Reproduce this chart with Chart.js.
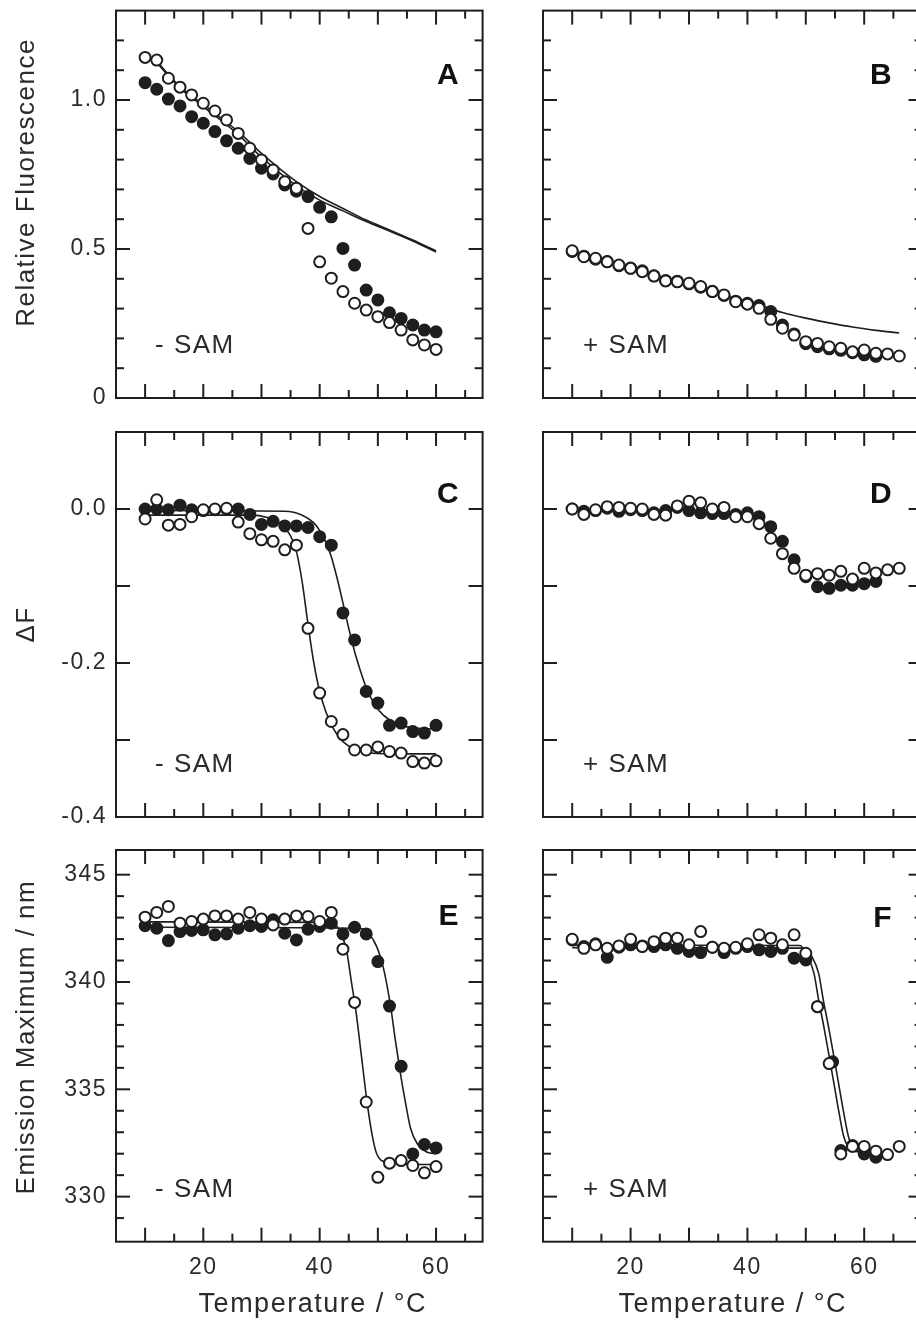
<!DOCTYPE html>
<html><head><meta charset="utf-8">
<script src="https://cdn.jsdelivr.net/npm/chart.js@4.4.1/dist/chart.umd.min.js"></script>
<style>
html,body{margin:0;padding:0;background:#fff;overflow:hidden;}
#wrap{position:relative;width:916px;height:1324px;overflow:hidden;background:#fff;}
.p{position:absolute;}
</style></head><body>
<div id="wrap">
<canvas class="p" id="cA" width="500" height="420" style="left:0;top:0"></canvas>
<canvas class="p" id="cB" width="440" height="420" style="left:500px;top:0"></canvas>
<canvas class="p" id="cC" width="500" height="420" style="left:0;top:420px"></canvas>
<canvas class="p" id="cD" width="440" height="420" style="left:500px;top:420px"></canvas>
<canvas class="p" id="cE" width="500" height="484" style="left:0;top:840px"></canvas>
<canvas class="p" id="cF" width="440" height="484" style="left:500px;top:840px"></canvas>
</div>
<script>
// ---------- DATA ----------
// Panel A (- SAM), relative fluorescence
const tA = [10,12,14,16,18,20,22,24,26,28,30,32,34,36,38,40,42,44,46,48,50,52,54,56,58,60];
const aOpen = [1.143,1.134,1.073,1.043,1.017,0.989,0.963,0.933,0.888,0.838,0.799,0.765,0.726,0.704,0.569,0.457,0.402,0.357,0.318,0.295,0.273,0.253,0.228,0.195,0.178,0.163];
const aFilled = [1.058,1.036,1.003,0.980,0.944,0.922,0.894,0.863,0.838,0.804,0.771,0.752,0.715,0.694,0.676,0.640,0.608,0.502,0.446,0.362,0.329,0.286,0.267,0.245,0.228,0.222];
const tAFit = [12,16,20,26,30,36,40,44,48,52,56,60];
const aFit1 = [1.130,1.045,0.985,0.894,0.821,0.726,0.676,0.636,0.597,0.564,0.530,0.494];
const aFit2 = [1.125,1.040,0.978,0.884,0.808,0.712,0.664,0.628,0.592,0.560,0.527,0.490];

// Panel B (+ SAM)
const tB = [10,12,14,16,18,20,22,24,26,28,30,32,34,36,38,40,42,44,46,48,50,52,54,56,58,60,62,64,66];
const bOpen = [0.494,0.474,0.469,0.457,0.446,0.435,0.424,0.409,0.393,0.390,0.385,0.374,0.357,0.346,0.323,0.315,0.301,0.264,0.234,0.211,0.189,0.183,0.172,0.167,0.155,0.161,0.150,0.148,0.141];
const tBf = [10,12,14,16,18,20,22,24,26,28,30,32,34,36,38,40,42,44,46,48,50,52,54,56,58,60,62];
const bFilled = [0.492,0.476,0.466,0.458,0.444,0.436,0.427,0.410,0.394,0.392,0.383,0.372,0.358,0.344,0.325,0.318,0.310,0.290,0.245,0.215,0.182,0.172,0.165,0.160,0.152,0.145,0.140];
const tBFit = [10,20,30,36,42,46,50,54,58,62,66];
const bFit = [0.490,0.435,0.380,0.345,0.312,0.287,0.268,0.252,0.238,0.227,0.218];

// Panel C (- SAM), delta F
const tC = [10,12,14,16,18,20,22,24,26,28,30,32,34,36,38,40,42,44,46,48,50,52,54,56,58,60];
const cOpen = [-0.013,0.012,-0.021,-0.020,-0.010,-0.001,0.000,0.001,-0.017,-0.032,-0.040,-0.042,-0.053,-0.047,-0.155,-0.239,-0.276,-0.293,-0.313,-0.313,-0.309,-0.315,-0.317,-0.328,-0.330,-0.327];
const cFilled = [0.000,0.000,-0.001,0.005,-0.001,-0.002,-0.001,0.000,0.000,-0.007,-0.020,-0.016,-0.022,-0.022,-0.024,-0.036,-0.047,-0.135,-0.170,-0.237,-0.252,-0.281,-0.278,-0.289,-0.291,-0.281];
const tCFitO = [10,28,31,33,35,36,37,38,39,40,41,42,43,44,46,48,52,60];
const cFitO = [-0.008,-0.008,-0.011,-0.018,-0.035,-0.055,-0.095,-0.150,-0.200,-0.237,-0.262,-0.280,-0.293,-0.302,-0.312,-0.316,-0.318,-0.318];
const tCFitF = [10,34,37,39,40,41,42,43,44,45,46,47,48,49,50,52,54,56,60];
const cFitF = [-0.002,-0.003,-0.008,-0.018,-0.028,-0.042,-0.062,-0.090,-0.122,-0.155,-0.185,-0.210,-0.232,-0.248,-0.260,-0.274,-0.281,-0.284,-0.286];

// Panel D (+ SAM)
const tD = [10,12,14,16,18,20,22,24,26,28,30,32,34,36,38,40,42,44,46,48,50,52,54,56,58,60,62,64,66];
const dOpen = [0.000,-0.007,-0.001,0.003,0.002,0.001,0.000,-0.007,-0.008,0.004,0.010,0.008,0.000,0.002,-0.010,-0.010,-0.019,-0.038,-0.058,-0.077,-0.086,-0.084,-0.086,-0.081,-0.091,-0.077,-0.083,-0.079,-0.077];
const tDf = [10,12,14,16,18,20,22,24,26,28,30,32,34,36,38,40,42,44,46,48,50,52,54,56,58,60,62];
const dFilled = [0.000,-0.003,-0.002,0.001,-0.003,-0.001,-0.002,-0.005,-0.002,0.002,-0.002,-0.005,-0.006,-0.006,-0.007,-0.005,-0.010,-0.023,-0.042,-0.066,-0.088,-0.101,-0.103,-0.099,-0.099,-0.097,-0.094];

// Panel E (- SAM), emission maximum
const tE = [10,12,14,16,18,20,22,24,26,28,30,32,34,36,38,40,42,44,46,48,50,52,54,56,58,60];
const eOpen = [343.02,343.24,343.52,342.74,342.82,342.93,343.08,343.08,342.93,343.24,342.93,342.66,342.93,343.08,343.05,342.82,343.24,341.53,339.05,334.41,330.90,331.56,331.68,331.45,331.11,331.40];
const eFilled = [342.62,342.51,341.93,342.35,342.40,342.43,342.20,342.24,342.51,342.62,342.59,342.90,342.27,341.96,342.46,342.59,342.74,342.24,342.55,342.24,340.95,338.88,336.07,331.99,332.43,332.27];
const tEFitO = [10,42,43.4,44.6,45.4,46.3,47.2,48.1,49,49.8,51.6,56,60];
const eFitO = [342.8,342.78,342.4,341.5,340.1,338.5,336.5,334.5,332.9,332.0,331.6,331.5,331.5];
const tEFitF = [10,47,48.1,49.8,51,52.2,53,53.9,54.8,55.6,56.8,58.5,60];
const eFitF = [342.55,342.5,342.35,341.65,340.6,338.85,337.3,335.7,334.3,333.2,332.45,332.07,332.0];

// Panel F (+ SAM)
const tF = [10,12,14,16,18,20,22,24,26,28,30,32,34,36,38,40,42,44,46,48,50,52,54,56,58,60,62,64,66];
const fOpen = [341.99,341.57,341.73,341.57,341.68,341.99,341.65,341.88,342.04,342.04,341.73,342.35,341.62,341.57,341.62,341.78,342.20,342.04,341.73,342.20,341.34,338.85,336.20,331.99,332.34,332.34,332.12,331.96,332.34];
const tFf = [10,12,14,16,18,20,22,24,26,28,30,32,34,36,38,40,42,44,46,48,50,52,54.6,56,58,60,62];
const fFilled = [341.96,341.65,341.78,341.15,341.62,341.73,341.68,341.65,341.73,341.57,341.42,341.37,341.62,341.37,341.57,341.65,341.50,341.42,341.57,341.11,341.03,338.85,336.28,332.15,332.38,331.99,331.84];
const tFFit1 = [10,49,50.2,51.4,52.2,53.1,53.9,54.8,55.7,56.5,57.7,60,62];
const fFit1 = [341.72,341.7,341.26,340.4,339.16,337.9,336.7,335.3,333.9,332.8,332.2,332.15,332.2];
const tFFit2 = [10,49.8,51,52.2,53,53.9,54.7,55.6,56.5,57.3,58.5,62];
const fFit2 = [341.6,341.58,341.2,340.4,339.16,337.9,336.7,335.3,333.9,332.8,332.1,332.05];

// Axis ticks / labels
const xLabelVals = [20,40,60];
const xLabelText = ['20','40','60'];
const xMajor = [10,20,30,40,50,60];
const xMinor = [15,25,35,45,55,65];
const yLabelValsAB = [0,0.5,1.0];
const yLabelTextAB = ['0','0.5','1.0'];
const yMajorAB = [0.5,1.0];
const yMinorAB = [0.1,0.2,0.3,0.4,0.6,0.7,0.8,0.9,1.1,1.2];
const yLabelValsCD = [-0.4,-0.2,0.0];
const yLabelTextCD = ['-0.4','-0.2','0.0'];
const yMajorCD = [-0.3,-0.2,-0.1,0.0];
const yMinorCD = [];
const yLabelValsEF = [330,335,340,345];
const yLabelTextEF = ['330','335','340','345'];
const yMajorEF = [330,335,340,345];
const yMinorEF = [329,331,332,333,334,336,337,338,339,341,342,343,344];

// ---------- RENDERING ----------
const INK = '#1e1e1e';
const TXT = '#2b2b2b';
const FONT = "'Liberation Sans', Arial, Helvetica, sans-serif";
Chart.defaults.font.family = FONT;
Chart.defaults.color = TXT;

function pts(xs, ys){ return xs.map((x,i)=>({x:x, y:ys[i]})); }
function openSet(xs, ys){ return {data:pts(xs,ys), showLine:false, pointRadius:5.5, pointBorderWidth:2, pointBackgroundColor:'#fff', pointBorderColor:INK, order:0}; }
function filledSet(xs, ys){ return {data:pts(xs,ys), showLine:false, pointRadius:5.5, pointBorderWidth:2, pointBackgroundColor:INK, pointBorderColor:INK, order:1}; }
function fitSet(xs, ys){ return {data:pts(xs,ys), showLine:true, borderColor:INK, borderWidth:1.6, pointRadius:0, cubicInterpolationMode:'monotone', fill:false, order:2}; }

const SP = '1.5px';
const spacing = {
  id:'spacing',
  beforeLayout(chart){ chart.ctx.letterSpacing = SP; },
  beforeDraw(chart){ chart.ctx.letterSpacing = SP; }
};

const frame = {
  id:'frame',
  afterDatasetsDraw(chart, args, o){
    const {ctx, chartArea:a, scales:{x, y}} = chart;
    ctx.save();
    ctx.strokeStyle = INK; ctx.lineWidth = 2;
    const seg = (x1,y1,x2,y2)=>{ ctx.beginPath(); ctx.moveTo(x1,y1); ctx.lineTo(x2,y2); ctx.stroke(); };
    const tickX = (v,len)=>{ const p = x.getPixelForValue(v); seg(p,a.bottom,p,a.bottom-len); seg(p,a.top,p,a.top+len); };
    const tickY = (v,len)=>{ const p = y.getPixelForValue(v); seg(a.left,p,a.left+len,p); seg(a.right,p,a.right-len,p); };
    o.xMajor.forEach(v=>tickX(v,14)); o.xMinor.forEach(v=>tickX(v,8));
    o.yMajor.forEach(v=>tickY(v,14)); o.yMinor.forEach(v=>tickY(v,8));
    ctx.strokeRect(a.left, a.top, a.right-a.left, a.bottom-a.top);
    ctx.restore();
  }
};

const notes = {
  id:'notes',
  afterDraw(chart, args, o){
    const {ctx, chartArea:a} = chart;
    ctx.save();
    ctx.letterSpacing = '0px';
    ctx.fillStyle = '#111';
    ctx.font = 'bold 30px ' + FONT;
    ctx.textAlign = 'right'; ctx.textBaseline = 'alphabetic';
    ctx.fillText(o.letter, a.right - o.letterDx, a.top + o.letterDy);
    ctx.letterSpacing = '1.5px';
    ctx.fillStyle = TXT;
    ctx.font = '26px ' + FONT;
    ctx.textAlign = 'left';
    ctx.fillText(o.sam, a.left + o.samDx, a.bottom - 45);
    ctx.restore();
  }
};

function make(id, p){
  const left = p.col === 0;
  return new Chart(document.getElementById(id), {
    type:'scatter',
    data:{datasets:p.datasets},
    plugins:[spacing, frame, notes],
    options:{
      responsive:false, animation:false, devicePixelRatio:1,
      layout:{padding:{top:p.padTop, right:17.4, left:0, bottom:0}},
      plugins:{
        legend:{display:false}, tooltip:{enabled:false},
        frame:{xMajor:xMajor, xMinor:xMinor, yMajor:p.yMajor, yMinor:p.yMinor},
        notes:{letter:p.letter, letterDx: left?24:31, letterDy:p.letterDy, sam:p.sam, samDx: left?39:40}
      },
      scales:{
        x:{type:'linear', position:'bottom', min:5, max: left?68:70,
          grid:{display:false, drawTicks:false}, border:{display:false},
          afterFit(s){ s.height = p.xh; s.paddingLeft = 0; s.paddingRight = 0; },
          afterBuildTicks(s){ s.ticks = xLabelVals.map(v=>({value:v})); },
          ticks:{display:p.showX, autoSkip:false, maxRotation:0, minRotation:0, padding:12,
            font:{size:23}, color:TXT, callback:(v,i)=>xLabelText[i]},
          title:{display:p.showX, text:(left ? '   ' : '') + 'Temperature / °C', font:{size:27}, color:TXT, padding:{top:0,bottom:3}}
        },
        y:{type:'linear', position:'left', min:p.ymin, max:p.ymax,
          grid:{display:false, drawTicks:false}, border:{display:false},
          afterFit(s){ s.width = left ? 116 : 43; s.paddingTop = 0; s.paddingBottom = 0; },
          afterBuildTicks(s){ s.ticks = p.yVals.map(v=>({value:v})); },
          ticks:{display:left, autoSkip:false, padding:9, font:{size:23}, color:TXT, callback:(v,i)=>p.yText[i]},
          title:{display:left, text:p.ytitle, font:{size:26}, color:TXT, padding:{top:11,bottom:0}}
        }
      }
    }
  });
}

make('cA', {col:0, padTop:10.6, xh:22, showX:false, ymin:0, ymax:1.3, yVals:yLabelValsAB, yText:yLabelTextAB,
  yMajor:yMajorAB, yMinor:yMinorAB, letter:'A', letterDy:73, sam:'- SAM', ytitle:'     Relative Fluorescence',
  datasets:[openSet(tA,aOpen), filledSet(tA,aFilled), fitSet(tAFit,aFit1), fitSet(tAFit,aFit2)]});
make('cB', {col:1, padTop:10.6, xh:22, showX:false, ymin:0, ymax:1.3, yVals:yLabelValsAB, yText:yLabelTextAB,
  yMajor:yMajorAB, yMinor:yMinorAB, letter:'B', letterDy:73, sam:'+ SAM', ytitle:'',
  datasets:[openSet(tB,bOpen), filledSet(tBf,bFilled), fitSet(tBFit,bFit)]});
make('cC', {col:0, padTop:12, xh:23, showX:false, ymin:-0.4, ymax:0.1, yVals:yLabelValsCD, yText:yLabelTextCD,
  yMajor:yMajorCD, yMinor:yMinorCD, letter:'C', letterDy:71, sam:'- SAM', ytitle:'ΔF',
  datasets:[openSet(tC,cOpen), filledSet(tC,cFilled), fitSet(tCFitO,cFitO), fitSet(tCFitF,cFitF)]});
make('cD', {col:1, padTop:12, xh:23, showX:false, ymin:-0.4, ymax:0.1, yVals:yLabelValsCD, yText:yLabelTextCD,
  yMajor:yMajorCD, yMinor:yMinorCD, letter:'D', letterDy:71, sam:'+ SAM', ytitle:'',
  datasets:[openSet(tD,dOpen), filledSet(tDf,dFilled)]});
make('cE', {col:0, padTop:10, xh:82.3, showX:true, ymin:327.9, ymax:346.15, yVals:yLabelValsEF, yText:yLabelTextEF,
  yMajor:yMajorEF, yMinor:yMinorEF, letter:'E', letterDy:75, sam:'- SAM', ytitle:'  Emission Maximum / nm',
  datasets:[openSet(tE,eOpen), filledSet(tE,eFilled), fitSet(tEFitO,eFitO), fitSet(tEFitF,eFitF)]});
make('cF', {col:1, padTop:10, xh:82.3, showX:true, ymin:327.9, ymax:346.15, yVals:yLabelValsEF, yText:yLabelTextEF,
  yMajor:yMajorEF, yMinor:yMinorEF, letter:'F', letterDy:77, sam:'+ SAM', ytitle:'',
  datasets:[openSet(tF,fOpen), filledSet(tFf,fFilled), fitSet(tFFit1,fFit1), fitSet(tFFit2,fFit2)]});
</script>
</body></html>
